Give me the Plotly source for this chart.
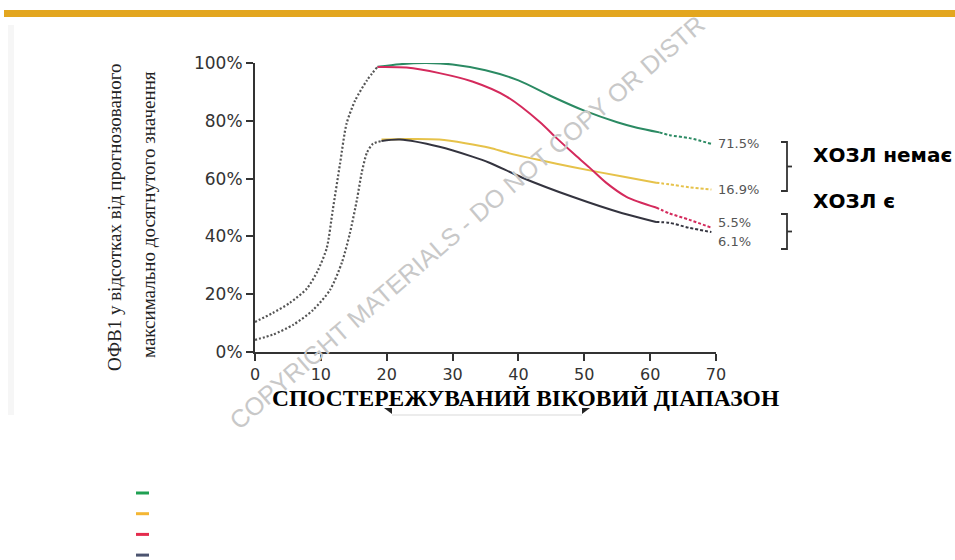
import plotly.graph_objects as go

# ---------------- data (age in years, FEV1 as % of predicted maximum) ----------------
growth_high_age = [0, 2.7, 5.3, 7.9, 9.5, 10.9, 11.8, 12.9, 13.9, 15.2, 17, 18.6]
growth_high_fev = [10.4, 13.5, 17, 22, 28, 36, 49, 65, 79, 87, 94, 98.7]
growth_low_age = [0, 2.7, 5.8, 8.8, 11.4, 13.2, 14.4, 15.5, 16.2, 17, 17.9, 19.2]
growth_low_fev = [4.2, 6, 9.4, 14.5, 21.5, 31, 41, 53, 62, 69, 72, 73]

green_age = [18.6, 22, 26, 30, 35, 40, 45, 50, 55, 58, 61.4]
green_fev = [98.7, 99.6, 100, 99.5, 97.5, 94, 88.5, 83.5, 79.5, 77.6, 76]
green_proj_age = [61.4, 63, 66, 69.3]
green_proj_fev = [76, 75, 74, 72]

yellow_age = [19.2, 23, 28, 35.6, 38.2, 43, 48.2, 55.8, 60.9]
yellow_fev = [73.5, 73.7, 73.5, 70.7, 69, 66.5, 64, 60.7, 58.6]
yellow_proj_age = [60.9, 62.9, 65.9, 69.3]
yellow_proj_fev = [58.6, 58, 57, 56.2]

red_age = [18.6, 23, 28, 33, 38.2, 43.2, 45.8, 48.2, 50.8, 53.3, 56.4, 60.9]
red_fev = [98.6, 98.4, 96.5, 93.6, 88.4, 79.7, 74, 69, 63.8, 58.6, 53.7, 50]
red_proj_age = [60.9, 62.9, 65.9, 69.3]
red_proj_fev = [50, 48, 45.8, 43]

black_age = [19.2, 22, 28, 33, 35.6, 40.6, 48.2, 55.8, 60.9]
black_fev = [73, 73.5, 71, 67.6, 65.5, 60.3, 53.7, 48, 45]
black_proj_age = [60.9, 62.9, 65.9, 69.3]
black_proj_fev = [45, 44.7, 43, 41.5]

pct_labels = ["71.5%", "16.9%", "5.5%", "6.1%"]
pct_yshift = [0, 0, 5, -9]

x_ticks = [0, 10, 20, 30, 40, 50, 60, 70]
y_ticks = [0, 20, 40, 60, 80, 100]
y_ticktext = ["0%", "20%", "40%", "60%", "80%", "100%"]

line_colors = ["#2b8a63", "#e6c24a", "#d42a5c", "#34343f"]
legend_colors = ["#1fa052", "#f4b633", "#e42b4d", "#4c5470"]

y_title_1 = "ОФВ1 у відсотках від прогнозованого"
y_title_2 = "максимально досягнутого значення"
x_title = "СПОСТЕРЕЖУВАНИЙ ВІКОВИЙ ДІАПАЗОН"
group_labels = ["ХОЗЛ немає", "ХОЗЛ є"]
watermark = "COPYRIGHT MATERIALS - DO NOT COPY OR DISTR"

# ---------------- figure ----------------
W, H = 955, 560
ML, MR, MT, MB = 255, 239, 63, 208
PW, PH = W - ML - MR, H - MT - MB


def px_x(p):
    return (p - ML) / PW


def px_y(p):
    return (H - MB - p) / PH


fig = go.Figure()

for ages, vals in [(growth_high_age, growth_high_fev), (growth_low_age, growth_low_fev)]:
    fig.add_trace(go.Scatter(x=ages, y=vals, mode="lines", cliponaxis=False,
                             line=dict(color="#555555", width=2.2, dash="2px,2px",
                                       shape="spline", smoothing=0.7),
                             showlegend=False, hoverinfo="skip"))

series = [
    (green_age, green_fev, green_proj_age, green_proj_fev),
    (yellow_age, yellow_fev, yellow_proj_age, yellow_proj_fev),
    (red_age, red_fev, red_proj_age, red_proj_fev),
    (black_age, black_fev, black_proj_age, black_proj_fev),
]

for i, (a, v, pa, pv) in enumerate(series):
    fig.add_trace(go.Scatter(x=a, y=v, mode="lines", cliponaxis=False,
                             line=dict(color=line_colors[i], width=2, shape="spline", smoothing=0.8),
                             showlegend=False, hoverinfo="skip"))
    fig.add_trace(go.Scatter(x=pa, y=pv, mode="lines", cliponaxis=False,
                             line=dict(color=line_colors[i], width=2, dash="3px,2px",
                                       shape="spline", smoothing=0.8),
                             showlegend=False, hoverinfo="skip"))
    fig.add_annotation(x=pa[-1], y=pv[-1], xref="x", yref="y", text=pct_labels[i],
                       showarrow=False, xanchor="left", yanchor="middle", xshift=6,
                       yshift=pct_yshift[i], borderpad=0,
                       font=dict(family="DejaVu Sans", size=13, color="#555555"))

# brackets grouping the percentage labels
bx0, bx1, bx2 = px_x(781), px_x(787), px_x(792)
for top, bot in [(px_y(142), px_y(191)), (px_y(214), px_y(249))]:
    mid = (top + bot) / 2
    fig.add_shape(type="path", xref="paper", yref="paper",
                  path=f"M {bx0} {top} L {bx1} {top} L {bx1} {bot} L {bx0} {bot}",
                  line=dict(color="#333333", width=1.8))
    fig.add_shape(type="line", xref="paper", yref="paper", x0=bx1, x1=bx2, y0=mid, y1=mid,
                  line=dict(color="#333333", width=1.8))

fig.add_annotation(x=px_x(811), y=px_y(155), xref="paper", yref="paper", text=group_labels[0],
                   showarrow=False, xanchor="left", yanchor="middle",
                   font=dict(family="DejaVu Sans", size=20, color="#000000", weight="bold"))
fig.add_annotation(x=px_x(811), y=px_y(201), xref="paper", yref="paper", text=group_labels[1],
                   showarrow=False, xanchor="left", yanchor="middle",
                   font=dict(family="DejaVu Sans", size=20, color="#000000", weight="bold"))

# axis titles
fig.add_annotation(x=px_x(115), y=px_y(217), xref="paper", yref="paper", text=y_title_1,
                   textangle=-90, showarrow=False, xanchor="center", yanchor="middle",
                   font=dict(family="Liberation Serif", size=19, color="#222222"))
fig.add_annotation(x=px_x(148), y=px_y(215), xref="paper", yref="paper", text=y_title_2,
                   textangle=-90, showarrow=False, xanchor="center", yanchor="middle",
                   font=dict(family="Liberation Serif", size=19, color="#222222"))
fig.add_annotation(x=px_x(525), y=px_y(398), xref="paper", yref="paper", text=x_title,
                   showarrow=False, xanchor="center", yanchor="middle", borderpad=0,
                   font=dict(family="Liberation Serif", size=23.5, color="#000000", weight="bold"))

# faint arrow below the x title
fig.add_shape(type="line", xref="paper", yref="paper", x0=px_x(392), x1=px_x(582),
              y0=px_y(415), y1=px_y(415), line=dict(color="#e6e6e6", width=1.5))
fig.add_shape(type="path", xref="paper", yref="paper",
              path=f"M {px_x(384)} {px_y(408)} L {px_x(392)} {px_y(408)} L {px_x(392)} {px_y(414)} Z",
              fillcolor="#222222", line=dict(width=0))
fig.add_shape(type="path", xref="paper", yref="paper",
              path=f"M {px_x(590)} {px_y(408)} L {px_x(582)} {px_y(408)} L {px_x(582)} {px_y(414)} Z",
              fillcolor="#222222", line=dict(width=0))

# top band and faint left strip
fig.add_shape(type="rect", xref="paper", yref="paper", x0=px_x(4), x1=px_x(955),
              y0=px_y(17), y1=px_y(10), fillcolor="#e3a61f", line=dict(width=0), layer="below")
fig.add_shape(type="rect", xref="paper", yref="paper", x0=px_x(8), x1=px_x(14),
              y0=px_y(415), y1=px_y(25), fillcolor="#f6f6f6", line=dict(width=0), layer="below")

# legend swatches (no text in the original)
for i, c in enumerate(legend_colors):
    yy = px_y(493 + i * 20.7)
    fig.add_shape(type="line", xref="paper", yref="paper", x0=px_x(136), x1=px_x(149),
                  y0=yy, y1=yy, line=dict(color=c, width=3))

# watermark
fig.add_annotation(x=px_x(467), y=px_y(222), xref="paper", yref="paper", text=watermark,
                   textangle=-40.8, showarrow=False, xanchor="center", yanchor="middle",
                   borderpad=0,
                   font=dict(family="Liberation Sans", size=25, color="#c8c8c8"))

fig.update_layout(
    width=W, height=H,
    margin=dict(l=ML, r=MR, t=MT, b=MB),
    paper_bgcolor="white", plot_bgcolor="white",
    xaxis=dict(range=[0, 70], tickvals=x_ticks, showline=True, linecolor="#333333", linewidth=2,
               ticks="outside", ticklen=7, tickwidth=2, tickcolor="#333333", showgrid=False,
               zeroline=False, ticklabelstandoff=0,
               tickfont=dict(family="DejaVu Sans", size=16, color="#333333")),
    yaxis=dict(range=[0, 100], tickvals=y_ticks, ticktext=y_ticktext, showline=True,
               linecolor="#333333", linewidth=2, ticks="outside", ticklen=7, tickwidth=2,
               tickcolor="#333333", showgrid=False, zeroline=False,
               tickfont=dict(family="DejaVu Sans", size=17, color="#333333")),
)

fig.write_html("out.html", config={"displayModeBar": False},
               post_script="document.body.style.margin='0';")
